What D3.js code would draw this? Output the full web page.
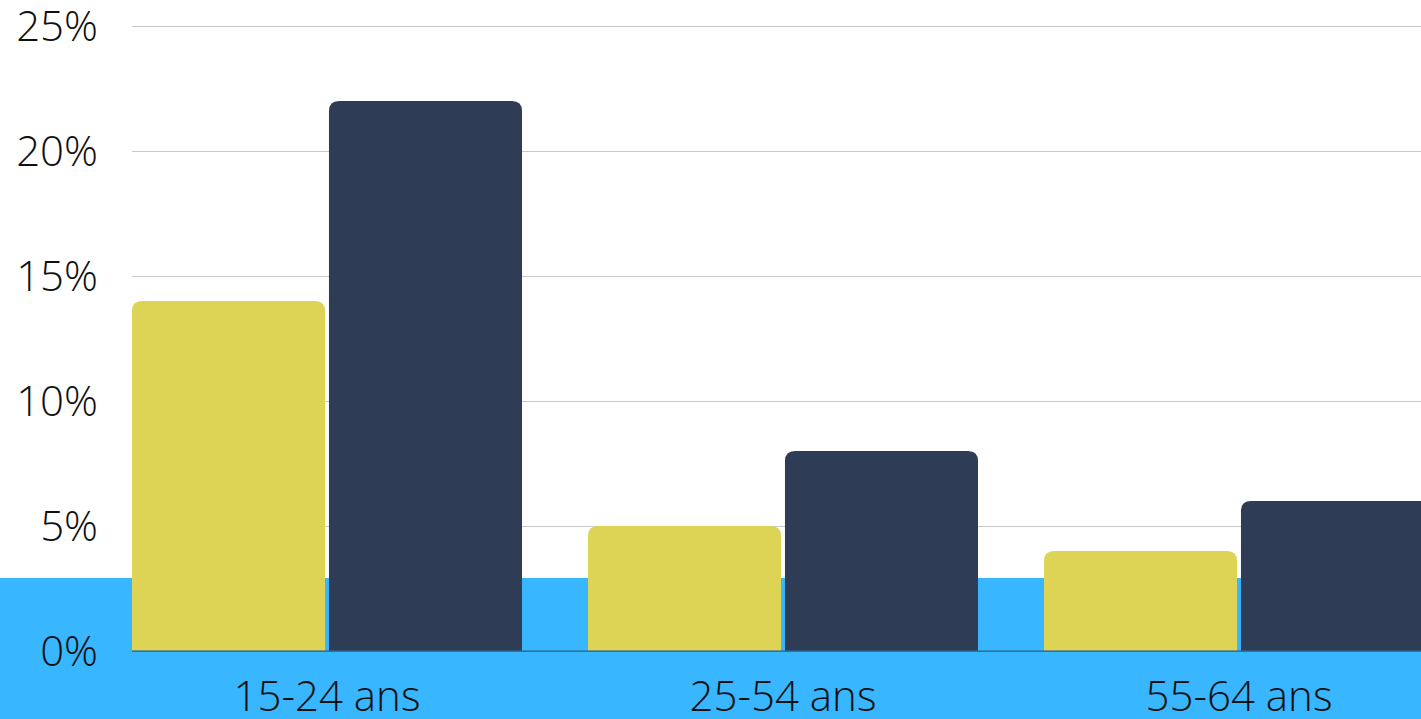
<!DOCTYPE html>
<html><head><meta charset="utf-8">
<script src="https://cdn.jsdelivr.net/npm/d3@7"></script>
<style>
html,body{margin:0;padding:0;background:#fff;overflow:hidden}
svg{display:block}
text{font-family:"Open Sans",sans-serif;font-weight:300;fill:#111}
</style></head>
<body>
<svg id="c" width="1421" height="719"></svg>
<script>
const categories = ["15-24 ans", "25-54 ans", "55-64 ans"];
const seriesNames = ["Série A", "Série B"];
const seriesA = [14, 5, 4];
const seriesB = [22, 8, 6];
const yTicks = [0, 5, 10, 15, 20, 25];
const colors = ["#DDD355", "#2E3C56"];

const W = 1421, H = 719;
const svg = d3.select("#c");

const x = d3.scaleBand().domain(categories).range([132, 1434]).paddingInner(66/456).paddingOuter(0);
const xs = d3.scaleBand().domain(seriesNames).range([0, x.bandwidth()]).paddingInner(0.02);
const y = d3.scaleLinear().domain([0, 25]).range([651, 26]);

// blue band background
svg.append("rect").attr("x", 0).attr("y", 578).attr("width", W).attr("height", H - 578).attr("fill", "#38B6FF");

// gridlines + y labels
const yAxis = d3.axisLeft(y).tickValues(yTicks).tickFormat(d => d + "%").tickSize(0).tickPadding(34);
const g = svg.append("g").attr("transform", "translate(132,0)").call(yAxis);
g.select(".domain").remove();
g.selectAll("text").attr("font-size", 42).attr("font-family", "Open Sans").attr("font-weight", 300).attr("fill", "#111").attr("dy", "0.35em");
g.selectAll(".tick").append("line").attr("x1", 0).attr("x2", W).attr("stroke", d => d === 0 ? "#3a6f93" : "#c8c8c8").attr("stroke-width", d => d === 0 ? 1.5 : 1.2).attr("shape-rendering","crispEdges");

function topRounded(x0, y0, w, h, r) {
  r = Math.min(r, h, w / 2);
  return `M${x0},${y0 + h}V${y0 + r}Q${x0},${y0} ${x0 + r},${y0}H${x0 + w - r}Q${x0 + w},${y0} ${x0 + w},${y0 + r}V${y0 + h}Z`;
}

const data = categories.map((c, i) => ({c, vals: [seriesA[i], seriesB[i]]}));
const groups = svg.append("g").selectAll("g").data(data).join("g").attr("transform", d => `translate(${x(d.c)},0)`);
groups.selectAll("path").data(d => d.vals.map((v, j) => ({v, s: seriesNames[j], j})))
  .join("path")
  .attr("d", d => topRounded(xs(d.s), y(d.v), xs.bandwidth(), y(0) - y(d.v), 10))
  .attr("fill", d => colors[d.j]);

// zero line on top
svg.append("line").attr("x1", 132).attr("x2", W).attr("y1", y(0)).attr("y2", y(0)).attr("stroke", "#2f6f96").attr("stroke-width", 1.5).attr("opacity", 0.8);

// x axis labels
const xAxis = d3.axisBottom(x).tickSize(0).tickPadding(30);
const gx = svg.append("g").attr("transform", `translate(0,${y(0)})`).call(xAxis);
gx.select(".domain").remove();
gx.selectAll("text").attr("font-size", 42).attr("font-family", "Open Sans").attr("font-weight", 300).attr("fill", "#111");
</script>
</body></html>
